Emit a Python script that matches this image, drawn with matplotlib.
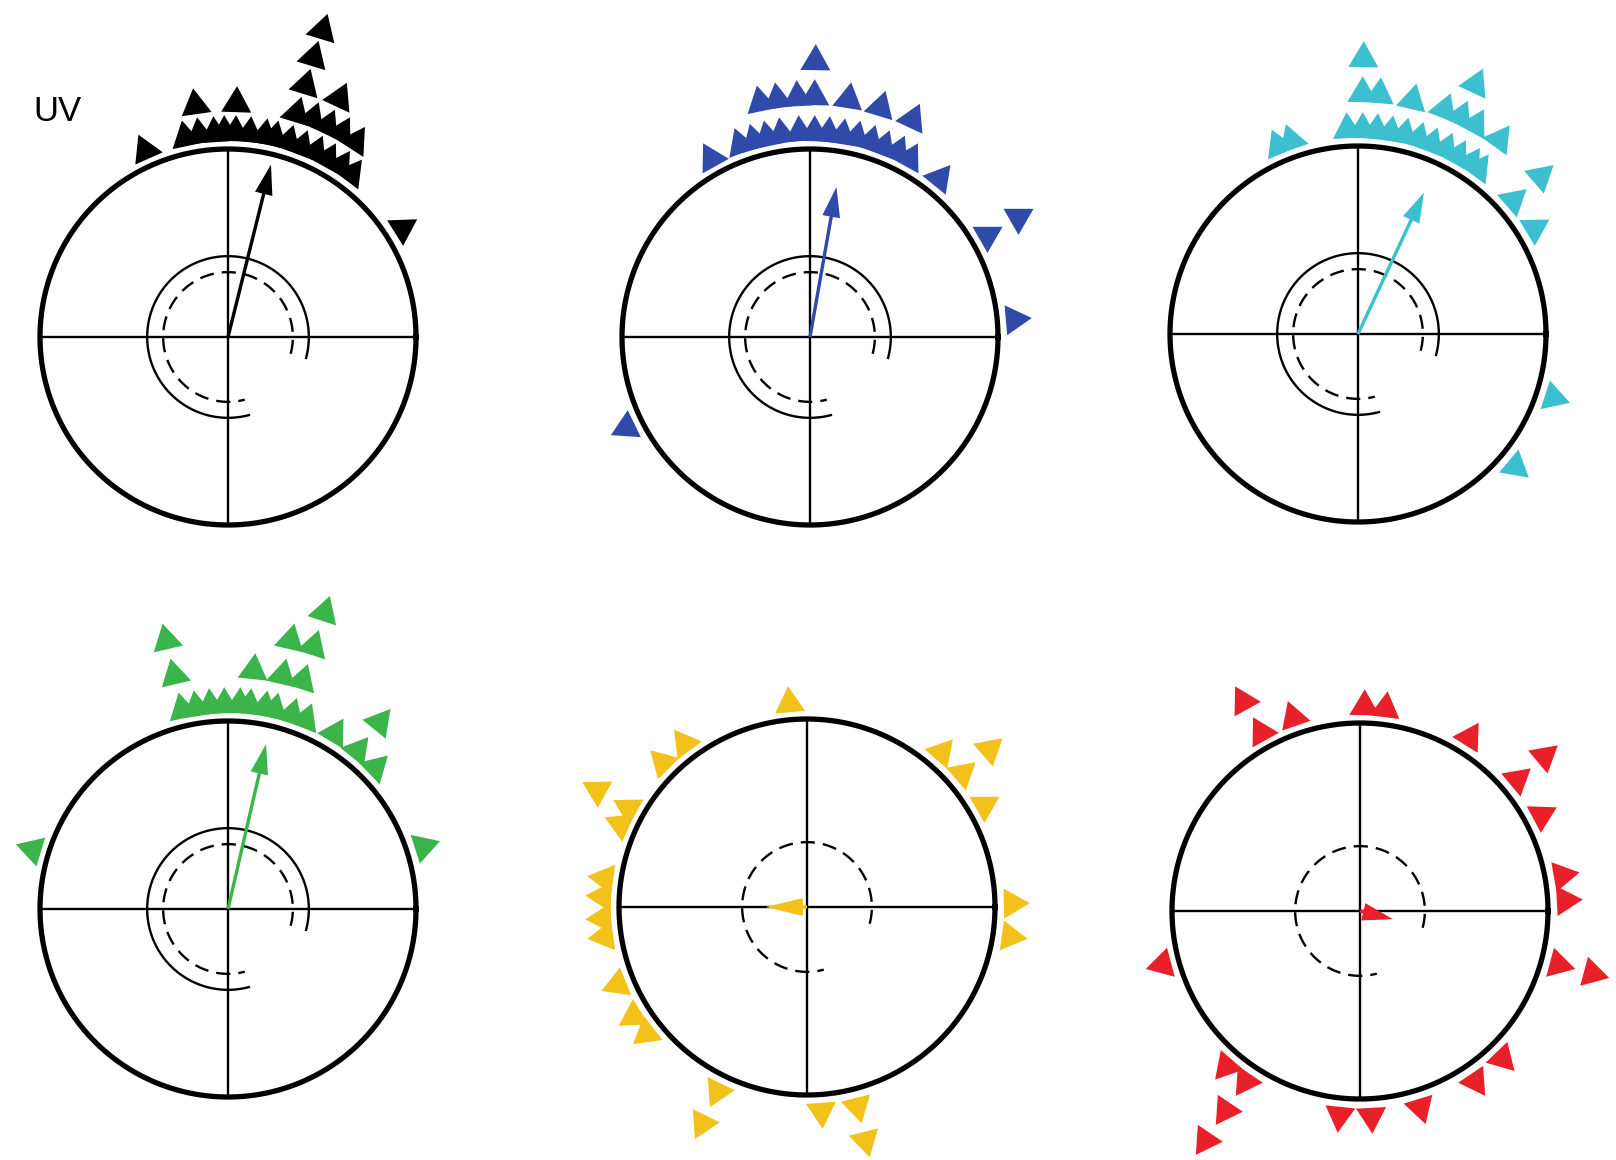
import numpy as np
import matplotlib.pyplot as plt

plt.rcParams['figure.dpi'] = 100

# Individual headings in degrees, clockwise from north.
# A heading that repeats is stacked one row further out.
uv_bearings = [336,
               -12, -8, -4, -1, 2, 6, 10, 13, 17, 21, 25, 29, 33, 37,
               -8, 2, 17, 21, 25, 29, 33,
               17, 25,
               17,
               17,
               58]
blue_bearings = [331,
                 -20, -16, -12, -8, -3, 1, 5, 9, 13, 17, 21, 25, 29,
                 -12, -8, -3, 1, 9, 17, 25,
                 1,
                 39, 60, 60, 85, 244]
cyan_bearings = [-23, -19,
                 -3, 1, 5, 9, 13, 17, 21, 25, 29, 33, 36,
                 1, 5, 13, 21, 25, 29, 36,
                 1, 25,
                 49, 49, 59, 108, 130]
green_bearings = [287,
                  -13, -9, -5, -1, 3, 6, 10, 13, 18, 22, 31, 39, 46,
                  -13, 6, 13, 18, 39,
                  -13, 13, 18,
                  18,
                  72]
yellow_bearings = [355, 323, 315, 299, 299, 294, 278, 273, 267, 262,
                   248, 238, 232, 206, 206, 176, 166, 166,
                   98, 89, 60, 49, 49, 41]
red_bearings = [1, 7, 331, 331, 341, 32, 50, 50, 62, 80, 87, 105, 105,
                136, 146, 163, 177, 186, 214, 214, 214, 221, 255]

# Mean vector of each group: direction (deg) and length r
mean_dirs = [14, 10, 25, 13, 270, 104]
mean_lens = [0.945, 0.81, 0.83, 0.90, 0.22, 0.18]

groups = [uv_bearings, blue_bearings, cyan_bearings,
          green_bearings, yellow_bearings, red_bearings]
colors = ['#000000', '#2f4aa8', '#3cbfcf', '#3bb44a', '#f2c21b', '#e8202a']
row_steps = [0.155, 0.19, 0.19, 0.19, 0.19, 0.19]
show_solid = [True, True, True, True, False, False]

# panel centres in pixels (x, y from top) and circle radius in pixels
centres = [(228, 337), (810, 337), (1358, 334),
           (228, 909), (807, 907), (1360, 911)]
radius_px = 188
W, H = 1616, 1160
half = 1.55


def stack(bearings):
    counts = {}
    out = []
    for b in bearings:
        key = round(b % 360)
        k = counts.get(key, 0)
        counts[key] = k + 1
        out.append((b % 360, k))
    return out


def draw_panel(ax, bearings, color, mdir, mlen, step, solid):
    t = np.linspace(0, 2 * np.pi, 400)
    ax.plot(np.cos(t), np.sin(t), color='k', lw=3.8, zorder=2)
    ax.plot([-1, 1], [0, 0], color='k', lw=1.7, zorder=1)
    ax.plot([0, 0], [-1, 1], color='k', lw=1.7, zorder=1)

    # critical-value rings
    arc = np.radians(np.linspace(-15, 285, 300))
    if solid:
        ax.plot(0.43 * np.cos(arc), 0.43 * np.sin(arc), color='k', lw=1.7)
    ax.plot(0.345 * np.cos(arc), 0.345 * np.sin(arc), color='k', lw=1.7,
            ls=(0, (6, 3.4)))

    for b, k in stack(bearings):
        r = 1.09 + k * step
        th = np.radians(b)
        ax.plot(r * np.sin(th), r * np.cos(th), ls='none',
                marker=(3, 0, -b), ms=25, color=color, mec='none',
                clip_on=False, zorder=3)

    # short mean vectors are drawn as a bare head
    th = np.radians(mdir)
    head = 0.16 if mlen > 0.4 else 0.9 * mlen
    ax.arrow(0, 0, mlen * np.sin(th), mlen * np.cos(th), width=0.018,
             head_width=0.095, head_length=head, length_includes_head=True,
             fc=color, ec=color, lw=0, zorder=5)


fig = plt.figure(figsize=(W / 100, H / 100))
fig.patch.set_facecolor('white')

h = half * radius_px
for i, (cx, cy) in enumerate(centres):
    ax = fig.add_axes([(cx - h) / W, (H - cy - h) / H, 2 * h / W, 2 * h / H])
    ax.set_xlim(-half, half)
    ax.set_ylim(-half, half)
    ax.set_aspect('equal')
    ax.axis('off')
    draw_panel(ax, groups[i], colors[i], mean_dirs[i], mean_lens[i],
               row_steps[i], show_solid[i])

fig.text(33 / W, 1 - 121 / H, 'UV', fontsize=25, family='Liberation Sans',
         va='baseline', ha='left')

fig.savefig('out.png', dpi=100)
